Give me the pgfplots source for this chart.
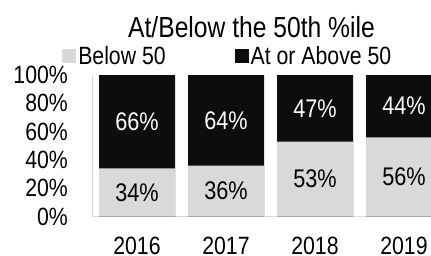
\documentclass[border=0pt]{standalone}
\usepackage{pgfplots}
\usepackage{pgfplotstable}
\pgfplotsset{compat=1.18}
\usepackage{fontspec}
\setmainfont{Liberation Sans}[FakeStretch=0.85]
\definecolor{barlight}{HTML}{D9D9D9}
\definecolor{bardark}{HTML}{0D0D0D}
\definecolor{axgray}{HTML}{D9D9D9}
\pgfplotstableread{
x below above
0 34 66
1 36 64
2 53 47
3 56 44
}\datatable
\begin{document}
\begin{tikzpicture}
\useasboundingbox (0,0) rectangle (431pt,255pt);
\clip (0,0) rectangle (431pt,255pt);
\begin{axis}[
  at={(92.5pt,38.5pt)}, anchor=south west,
  width=356pt, height=141.5pt, scale only axis,
  xmin=-0.5, xmax=3.5, ymin=0, ymax=100,
  axis lines*=left,
  axis line style={draw=axgray, line width=1pt, -},
  major tick length=0pt,
  xtick={0,1,2,3},
  xticklabels={2016,2017,2018,2019},
  ytick={0,20,40,60,80,100},
  yticklabels={0\%,20\%,40\%,60\%,80\%,100\%},
  xticklabel style={font=\fontsize{25}{25}\selectfont, anchor=base, inner sep=0pt, yshift=-38pt},
  yticklabel style={font=\fontsize{25}{25}\selectfont, anchor=east, inner sep=0pt, xshift=-24.5pt},
  clip=false,
  legend columns=2,
  legend image code/.code={\fill[#1] (0pt,-7pt) rectangle (14pt,7pt);},
  legend style={at={(0.38,1.134)}, anchor=center, draw=none, fill=none, inner sep=0pt,
    font=\fontsize{25}{25}\selectfont,
    /tikz/every even column/.append style={column sep=67pt}},
]
\addplot[ybar, bar width=76pt, bar shift=0pt, fill=bardark, draw=none, forget plot]
  table[x=x, y expr=\thisrow{below}+\thisrow{above}] {\datatable};
\addplot[ybar, bar width=76pt, bar shift=0pt, fill=barlight, draw=none, forget plot]
  table[x=x, y=below] {\datatable};
\addplot[draw=none, mark=none, forget plot, point meta=explicit,
  nodes near coords={\pgfmathprintnumber[assume math mode=true]{\pgfplotspointmeta}\%}, nodes near coords align=center,
  every node near coord/.append style={font=\fontsize{25.5}{25.5}\selectfont, text=white}]
  table[x=x, y expr=\thisrow{below}+\thisrow{above}/2, meta=above] {\datatable};
\addplot[draw=none, mark=none, forget plot, point meta=explicit,
  nodes near coords={\pgfmathprintnumber[assume math mode=true]{\pgfplotspointmeta}\%}, nodes near coords align=center,
  every node near coord/.append style={font=\fontsize{25.5}{25.5}\selectfont, text=black}]
  table[x=x, y expr=\thisrow{below}/2, meta=below] {\datatable};
\addlegendimage{fill=barlight, draw=none}
\addlegendentry{Below 50}
\addlegendimage{fill=bardark, draw=none}
\addlegendentry{At or Above 50}
\end{axis}
\node[font=\fontsize{29}{29}\selectfont, inner sep=0pt, anchor=base] at (251.5pt,217pt) {At/Below the 50th \%ile};
\end{tikzpicture}
\end{document}
